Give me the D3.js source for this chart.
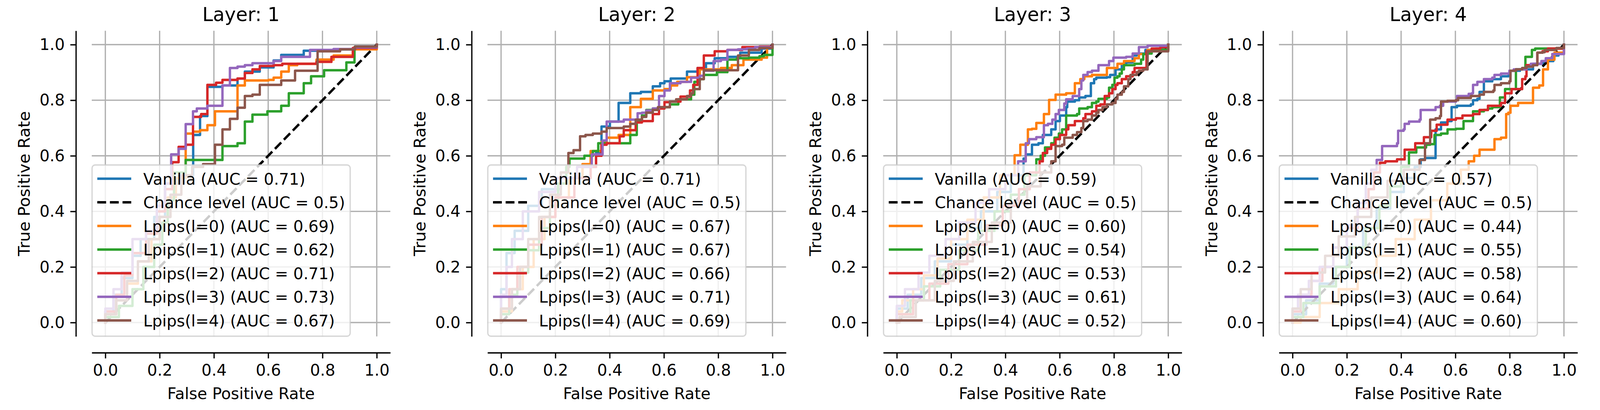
<!DOCTYPE html>
<html><head><meta charset="utf-8">
<script src="https://cdn.jsdelivr.net/npm/d3@7"></script>
<style>
html,body{margin:0;padding:0;background:#fff;width:100%;height:100%;overflow:hidden}
svg{display:block;width:100vw;height:100vh;font-family:"DejaVu Sans",sans-serif}
</style>
</head><body>
<svg id="chart" viewBox="0 0 4200 1050" preserveAspectRatio="none"></svg>
<script>
// ---------- data ----------
const layerTitles = ["Layer: 1", "Layer: 2", "Layer: 3", "Layer: 4"];
const xTicks = [0.0, 0.2, 0.4, 0.6, 0.8, 1.0];
const yTicks = [0.0, 0.2, 0.4, 0.6, 0.8, 1.0];
const seriesNames = ["Vanilla", "Lpips(l=0)", "Lpips(l=1)", "Lpips(l=2)", "Lpips(l=3)", "Lpips(l=4)"];
const seriesColors = ["#1f77b4", "#ff7f0e", "#2ca02c", "#d62728", "#9467bd", "#8c564b"];
const chanceLabel = "Chance level (AUC = 0.5)";

// AUC per layer (Layer 1..4)
const aucVanilla = [0.71, 0.71, 0.59, 0.57];
const aucL0 = [0.69, 0.67, 0.60, 0.44];
const aucL1 = [0.62, 0.67, 0.54, 0.55];
const aucL2 = [0.71, 0.66, 0.53, 0.58];
const aucL3 = [0.73, 0.71, 0.61, 0.64];
const aucL4 = [0.67, 0.69, 0.52, 0.60];

// ROC curves [fpr, tpr] (points where each step reaches its new level)
const roc1Vanilla = [[0,0],[0,0.04],[0.03,0.1],[0.06,0.16],[0.1,0.24],[0.13,0.3],[0.18,0.38],[0.22,0.5],[0.27,0.53],[0.3236,0.675],[0.349,0.743],[0.376,0.848],[0.4315,0.853],[0.487,0.878],[0.514,0.903],[0.569,0.918],[0.620,0.943],[0.648,0.963],[0.731,0.978],[0.841,0.983],[0.920,0.993],[1,1]];
const roc1L0 = [[0,0],[0,0.03],[0.04,0.08],[0.08,0.14],[0.12,0.22],[0.17,0.3],[0.2,0.38],[0.23,0.45],[0.26,0.52],[0.296,0.68],[0.323,0.687],[0.349,0.692],[0.376,0.71],[0.404,0.76],[0.487,0.853],[0.514,0.871],[0.601,0.873],[0.620,0.881],[0.648,0.903],[0.676,0.926],[0.707,0.931],[0.778,0.946],[0.841,0.961],[0.912,0.983],[1,1]];
const roc1L1 = [[0,0],[0,0.02],[0.05,0.06],[0.1,0.12],[0.14,0.2],[0.18,0.28],[0.21,0.36],[0.23,0.44],[0.253,0.54],[0.296,0.585],[0.4315,0.635],[0.487,0.645],[0.514,0.723],[0.542,0.748],[0.597,0.76],[0.648,0.78],[0.676,0.825],[0.731,0.861],[0.758,0.886],[0.806,0.908],[0.888,0.936],[0.918,0.991],[1,1]];
const roc1L2 = [[0,0],[0,0.04],[0.04,0.1],[0.07,0.17],[0.1,0.25],[0.15,0.32],[0.19,0.4],[0.22,0.48],[0.2465,0.577],[0.270,0.632],[0.296,0.640],[0.323,0.74],[0.353,0.75],[0.376,0.855],[0.408,0.863],[0.4315,0.873],[0.487,0.878],[0.514,0.898],[0.542,0.911],[0.569,0.923],[0.62,0.926],[0.652,0.931],[0.778,0.938],[0.833,0.956],[0.912,0.988],[1,1]];
const roc1L3 = [[0,0],[0,0.05],[0.03,0.12],[0.06,0.18],[0.1,0.3],[0.15,0.33],[0.19,0.42],[0.22,0.5],[0.2425,0.605],[0.27,0.625],[0.296,0.714],[0.323,0.76],[0.337,0.77],[0.376,0.78],[0.4315,0.853],[0.459,0.916],[0.487,0.921],[0.514,0.926],[0.542,0.933],[0.620,0.941],[0.648,0.956],[0.754,0.981],[0.841,0.984],[0.92,0.99],[1,1]];
const roc1L4 = [[0,0],[0,0.03],[0.04,0.08],[0.08,0.15],[0.12,0.22],[0.16,0.3],[0.2,0.38],[0.24,0.46],[0.28,0.53],[0.32,0.56],[0.36,0.57],[0.404,0.64],[0.4315,0.695],[0.459,0.733],[0.487,0.773],[0.514,0.815],[0.542,0.82],[0.569,0.855],[0.648,0.871],[0.699,0.906],[0.782,0.976],[0.865,0.983],[0.92,0.993],[1,1]];

const roc2Vanilla = [[0,0],[0,0.12],[0.02,0.25],[0.05,0.33],[0.1,0.42],[0.15,0.48],[0.22,0.52],[0.3,0.56],[0.35,0.61],[0.37,0.705],[0.401,0.723],[0.433,0.79],[0.476,0.825],[0.515,0.83],[0.559,0.85],[0.586,0.861],[0.602,0.868],[0.625,0.878],[0.685,0.903],[0.724,0.916],[0.755,0.933],[0.787,0.951],[0.834,0.956],[0.881,0.971],[0.96,0.986],[1,1]];
const roc2L0 = [[0,0],[0,0.04],[0.04,0.12],[0.08,0.2],[0.12,0.3],[0.16,0.38],[0.2,0.45],[0.25,0.52],[0.3,0.57],[0.33,0.617],[0.37,0.65],[0.389,0.665],[0.433,0.675],[0.476,0.775],[0.515,0.805],[0.559,0.835],[0.602,0.84],[0.625,0.853],[0.649,0.866],[0.685,0.883],[0.732,0.911],[0.81,0.916],[0.85,0.926],[0.893,0.946],[0.96,0.953],[0.98,0.991],[1,1]];
const roc2L1 = [[0,0],[0,0.03],[0.03,0.1],[0.06,0.18],[0.1,0.26],[0.14,0.34],[0.18,0.42],[0.21,0.5],[0.24,0.56],[0.252,0.59],[0.307,0.60],[0.338,0.617],[0.358,0.645],[0.476,0.675],[0.5,0.725],[0.519,0.745],[0.535,0.765],[0.559,0.77],[0.598,0.775],[0.622,0.785],[0.653,0.803],[0.7,0.82],[0.712,0.866],[0.732,0.876],[0.747,0.891],[0.795,0.901],[0.834,0.946],[0.869,0.951],[0.913,0.953],[0.952,0.958],[0.968,0.963],[1,0.99],[1,1]];
const roc2L2 = [[0,0],[0,0.05],[0.03,0.12],[0.06,0.2],[0.1,0.28],[0.15,0.38],[0.2,0.45],[0.27,0.52],[0.33,0.56],[0.35,0.6],[0.37,0.64],[0.389,0.645],[0.437,0.67],[0.452,0.692],[0.496,0.72],[0.519,0.725],[0.559,0.75],[0.582,0.77],[0.602,0.793],[0.622,0.795],[0.661,0.813],[0.696,0.835],[0.708,0.855],[0.724,0.916],[0.747,0.961],[0.787,0.976],[0.834,0.981],[0.889,0.991],[0.952,0.993],[1,1]];
const roc2L3 = [[0,0],[0,0.1],[0.02,0.2],[0.04,0.3],[0.08,0.4],[0.14,0.47],[0.2,0.52],[0.28,0.56],[0.334,0.605],[0.374,0.655],[0.389,0.723],[0.452,0.73],[0.503,0.753],[0.519,0.755],[0.535,0.763],[0.559,0.77],[0.582,0.815],[0.602,0.835],[0.622,0.861],[0.661,0.866],[0.7,0.881],[0.732,0.888],[0.747,0.906],[0.783,0.941],[0.81,0.946],[0.834,0.981],[0.873,0.983],[0.905,0.986],[0.936,0.991],[1,1]];
const roc2L4 = [[0,0],[0,0.05],[0.04,0.12],[0.07,0.2],[0.1,0.3],[0.14,0.38],[0.18,0.46],[0.22,0.54],[0.248,0.61],[0.267,0.62],[0.291,0.67],[0.311,0.675],[0.338,0.68],[0.37,0.687],[0.389,0.70],[0.452,0.705],[0.476,0.715],[0.496,0.73],[0.519,0.74],[0.535,0.755],[0.559,0.765],[0.578,0.775],[0.622,0.795],[0.645,0.803],[0.685,0.815],[0.7,0.825],[0.708,0.84],[0.732,0.876],[0.747,0.908],[0.873,0.961],[0.913,0.981],[0.952,0.988],[1,1]];

const roc3Vanilla = [[0,0],[0,0.05],[0.04,0.1],[0.09,0.16],[0.14,0.22],[0.2,0.28],[0.26,0.34],[0.31,0.4],[0.37,0.47],[0.42,0.53],[0.467,0.59],[0.475,0.605],[0.498,0.64],[0.522,0.645],[0.538,0.675],[0.569,0.695],[0.585,0.725],[0.601,0.745],[0.624,0.775],[0.628,0.795],[0.656,0.8],[0.672,0.81],[0.695,0.815],[0.715,0.861],[0.727,0.876],[0.735,0.881],[0.774,0.883],[0.786,0.891],[0.806,0.911],[0.829,0.926],[0.845,0.936],[0.869,0.961],[0.884,0.968],[0.916,0.981],[0.955,0.986],[1,1]];
const roc3L0 = [[0,0],[0,0.04],[0.02,0.08],[0.06,0.12],[0.1,0.17],[0.15,0.23],[0.2,0.3],[0.26,0.37],[0.32,0.45],[0.38,0.53],[0.434,0.602],[0.455,0.64],[0.483,0.695],[0.498,0.697],[0.514,0.718],[0.542,0.75],[0.561,0.801],[0.585,0.82],[0.624,0.825],[0.656,0.861],[0.676,0.876],[0.691,0.886],[0.719,0.891],[0.774,0.916],[0.813,0.931],[0.837,0.941],[0.876,0.951],[0.892,0.966],[0.924,0.981],[1,1]];
const roc3L1 = [[0,0],[0,0.03],[0.05,0.08],[0.1,0.13],[0.16,0.19],[0.23,0.26],[0.3,0.33],[0.36,0.4],[0.42,0.46],[0.47,0.53],[0.514,0.587],[0.53,0.60],[0.546,0.63],[0.569,0.645],[0.581,0.665],[0.597,0.68],[0.609,0.695],[0.624,0.745],[0.664,0.75],[0.672,0.77],[0.703,0.775],[0.719,0.79],[0.735,0.795],[0.743,0.805],[0.774,0.81],[0.782,0.845],[0.794,0.855],[0.802,0.881],[0.813,0.886],[0.821,0.896],[0.829,0.911],[0.837,0.926],[0.876,0.931],[0.9,0.946],[0.908,0.966],[0.924,0.968],[0.939,0.981],[1,1]];
const roc3L2 = [[0,0],[0,0.03],[0.06,0.08],[0.12,0.14],[0.19,0.21],[0.26,0.28],[0.33,0.35],[0.39,0.42],[0.45,0.48],[0.49,0.54],[0.526,0.58],[0.538,0.61],[0.554,0.625],[0.569,0.64],[0.585,0.66],[0.601,0.675],[0.624,0.695],[0.632,0.71],[0.656,0.725],[0.687,0.735],[0.695,0.75],[0.719,0.76],[0.735,0.78],[0.75,0.785],[0.766,0.815],[0.782,0.825],[0.794,0.84],[0.806,0.855],[0.813,0.861],[0.829,0.876],[0.845,0.886],[0.869,0.901],[0.876,0.916],[0.92,0.976],[0.939,0.986],[0.971,0.991],[1,1]];
const roc3L3 = [[0,0],[0,0.06],[0.03,0.12],[0.08,0.18],[0.12,0.24],[0.18,0.3],[0.23,0.36],[0.29,0.43],[0.34,0.48],[0.4,0.53],[0.447,0.58],[0.475,0.645],[0.487,0.66],[0.514,0.667],[0.542,0.71],[0.557,0.715],[0.573,0.73],[0.585,0.75],[0.597,0.765],[0.617,0.788],[0.624,0.803],[0.648,0.815],[0.672,0.84],[0.68,0.871],[0.687,0.891],[0.703,0.901],[0.719,0.906],[0.743,0.926],[0.782,0.941],[0.798,0.953],[0.845,0.956],[0.869,0.968],[0.892,0.991],[0.924,0.996],[1,1]];
const roc3L4 = [[0,0],[0.01,0.02],[0.07,0.08],[0.14,0.15],[0.21,0.22],[0.28,0.29],[0.35,0.36],[0.42,0.43],[0.48,0.49],[0.53,0.54],[0.569,0.58],[0.585,0.635],[0.609,0.64],[0.617,0.665],[0.648,0.675],[0.664,0.685],[0.68,0.70],[0.687,0.725],[0.703,0.73],[0.719,0.745],[0.735,0.755],[0.743,0.765],[0.758,0.775],[0.774,0.785],[0.794,0.79],[0.806,0.805],[0.813,0.82],[0.829,0.83],[0.837,0.85],[0.853,0.876],[0.861,0.891],[0.884,0.901],[0.892,0.906],[0.908,0.911],[0.924,0.976],[1,1]];

const roc4Vanilla = [[0,0],[0,0.03],[0.05,0.08],[0.1,0.14],[0.15,0.2],[0.2,0.27],[0.26,0.34],[0.31,0.41],[0.36,0.47],[0.41,0.52],[0.45,0.56],[0.472,0.587],[0.488,0.592],[0.527,0.695],[0.547,0.72],[0.571,0.725],[0.586,0.775],[0.606,0.78],[0.657,0.785],[0.665,0.80],[0.681,0.805],[0.689,0.83],[0.705,0.868],[0.736,0.876],[0.768,0.886],[0.795,0.888],[0.803,0.906],[0.838,0.911],[0.886,0.931],[0.921,0.933],[0.941,0.941],[0.961,0.961],[0.98,0.968],[1,1]];
const roc4L0 = [[0,0],[0.03,0.02],[0.1,0.07],[0.17,0.12],[0.24,0.18],[0.31,0.24],[0.38,0.3],[0.45,0.37],[0.51,0.44],[0.57,0.5],[0.62,0.55],[0.649,0.58],[0.669,0.60],[0.689,0.622],[0.744,0.66],[0.768,0.665],[0.787,0.75],[0.795,0.755],[0.803,0.78],[0.831,0.79],[0.886,0.845],[0.909,0.853],[0.923,0.911],[0.941,0.946],[0.965,0.971],[1,0.976],[1,1]];
const roc4L1 = [[0,0],[0,0.02],[0.04,0.07],[0.1,0.13],[0.16,0.2],[0.21,0.27],[0.27,0.34],[0.32,0.42],[0.36,0.49],[0.4,0.56],[0.429,0.612],[0.456,0.63],[0.492,0.64],[0.507,0.642],[0.523,0.675],[0.547,0.68],[0.571,0.695],[0.602,0.697],[0.63,0.725],[0.665,0.76],[0.705,0.765],[0.72,0.77],[0.736,0.775],[0.764,0.81],[0.783,0.84],[0.823,0.911],[0.858,0.956],[0.882,0.981],[0.894,0.986],[1,1]];
const roc4L2 = [[0,0],[0,0.04],[0.03,0.1],[0.07,0.15],[0.11,0.2],[0.15,0.27],[0.2,0.34],[0.24,0.41],[0.28,0.48],[0.3,0.54],[0.322,0.575],[0.342,0.58],[0.385,0.587],[0.413,0.622],[0.452,0.645],[0.484,0.667],[0.511,0.69],[0.531,0.712],[0.571,0.73],[0.602,0.735],[0.626,0.745],[0.665,0.75],[0.689,0.765],[0.72,0.78],[0.768,0.79],[0.783,0.825],[0.807,0.84],[0.846,0.876],[0.858,0.886],[0.862,0.926],[0.894,0.931],[0.902,0.971],[0.921,0.976],[0.941,0.986],[1,1]];
const roc4L3 = [[0,0],[0,0.05],[0.02,0.1],[0.06,0.15],[0.1,0.2],[0.15,0.27],[0.2,0.35],[0.24,0.43],[0.27,0.5],[0.29,0.55],[0.31,0.585],[0.33,0.635],[0.385,0.645],[0.389,0.69],[0.409,0.695],[0.413,0.715],[0.429,0.723],[0.468,0.73],[0.472,0.765],[0.527,0.775],[0.543,0.78],[0.555,0.795],[0.602,0.80],[0.606,0.815],[0.649,0.823],[0.661,0.825],[0.665,0.855],[0.681,0.866],[0.705,0.876],[0.736,0.881],[0.744,0.891],[0.768,0.896],[0.799,0.906],[0.815,0.911],[0.862,0.921],[0.878,0.931],[0.917,0.941],[0.933,0.951],[0.957,0.966],[1,0.973],[1,1]];
const roc4L4 = [[0,0],[0,0.05],[0.03,0.12],[0.07,0.18],[0.12,0.24],[0.17,0.31],[0.23,0.38],[0.29,0.45],[0.35,0.51],[0.41,0.55],[0.468,0.585],[0.488,0.645],[0.507,0.73],[0.527,0.735],[0.543,0.743],[0.547,0.795],[0.571,0.798],[0.602,0.8],[0.61,0.808],[0.657,0.815],[0.689,0.82],[0.705,0.83],[0.74,0.835],[0.744,0.855],[0.768,0.861],[0.799,0.868],[0.803,0.906],[0.823,0.911],[0.846,0.916],[0.862,0.921],[0.886,0.926],[0.902,0.971],[0.921,0.973],[0.929,0.981],[0.972,0.988],[1,1]];

const chanceLine = [[0,0],[1,1]];

// ---------- assemble ----------
const panelCurves = [
  [roc1Vanilla, roc1L0, roc1L1, roc1L2, roc1L3, roc1L4],
  [roc2Vanilla, roc2L0, roc2L1, roc2L2, roc2L3, roc2L4],
  [roc3Vanilla, roc3L0, roc3L1, roc3L2, roc3L3, roc3L4],
  [roc4Vanilla, roc4L0, roc4L1, roc4L2, roc4L3, roc4L4]
];
const aucTable = [aucVanilla, aucL0, aucL1, aucL2, aucL3, aucL4];

// ---------- layout ----------
const PT = 300 / 72;
const axLeft0 = 240.9, panelStep = 1038.8, axW = 783.7;
const axTop = 78.7, axBot = 861.6, spineOff = 10 * PT;
const fs = 10 * PT, lw = 1.5 * PT;

const svg = d3.select("#chart");
svg.append("rect").attr("width", 4200).attr("height", 1050).attr("fill", "#fff");

layerTitles.forEach((title, p) => {
  const left = axLeft0 + p * panelStep;
  const x = d3.scaleLinear().domain([-0.05, 1.05]).range([left, left + axW]);
  const y = d3.scaleLinear().domain([-0.05, 1.05]).range([axBot, axTop]);
  const g = svg.append("g");

  // grid
  const grid = g.append("g").attr("stroke", "#b0b0b0").attr("stroke-width", 0.8 * PT);
  xTicks.forEach(t => grid.append("line").attr("x1", x(t)).attr("x2", x(t)).attr("y1", axTop).attr("y2", axBot));
  yTicks.forEach(t => grid.append("line").attr("y1", y(t)).attr("y2", y(t)).attr("x1", left).attr("x2", left + axW));

  const line = d3.line().x(d => x(d[0])).y(d => y(d[1])).curve(d3.curveStepAfter);
  const curves = panelCurves[p];

  const drawSeries = (i) => g.append("path").datum(curves[i])
      .attr("d", line).attr("fill", "none").attr("stroke", seriesColors[i])
      .attr("stroke-width", lw).attr("stroke-linejoin", "round").attr("stroke-linecap", "square");

  drawSeries(0);
  g.append("path").datum(chanceLine)
    .attr("d", d3.line().x(d => x(d[0])).y(d => y(d[1])))
    .attr("fill", "none").attr("stroke", "#000").attr("stroke-width", lw)
    .attr("stroke-dasharray", `${3.7 * lw},${1.6 * lw}`);
  for (let i = 1; i < 6; i++) drawSeries(i);

  // axes (offset spines)
  const yAxis = d3.axisLeft(y).tickValues(yTicks).tickFormat(d3.format(".1f"))
    .tickSize(3.5 * PT).tickSizeOuter(0).tickPadding(3.5 * PT);
  const xAxis = d3.axisBottom(x).tickValues(xTicks).tickFormat(d3.format(".1f"))
    .tickSize(3.5 * PT).tickSizeOuter(0).tickPadding(3.5 * PT);
  const ya = g.append("g").attr("transform", `translate(${left - spineOff},0)`).call(yAxis);
  const xa = g.append("g").attr("transform", `translate(0,${axBot + spineOff})`).call(xAxis);
  [ya, xa].forEach(a => {
    a.selectAll("path,line").attr("stroke", "#000").attr("stroke-width", 0.8 * PT);
    a.selectAll("text").attr("fill", "#000").style("font-size", fs + "px")
      .style("font-family", '"DejaVu Sans", sans-serif');
  });

  // labels
  g.append("text").attr("x", left + axW / 2).attr("y", 54).attr("text-anchor", "middle")
    .style("font-size", (12 * PT) + "px").text(title);
  g.append("text").attr("x", left + axW / 2).attr("y", 1022).attr("text-anchor", "middle")
    .style("font-size", fs + "px").text("False Positive Rate");
  g.append("text").attr("transform", `translate(${left - spineOff - 121},${(axTop + axBot) / 2}) rotate(-90)`)
    .attr("text-anchor", "middle").style("font-size", fs + "px").text("True Positive Rate");

  // legend
  const lg = g.append("g").attr("transform", `translate(${left + 0.8},422.5)`);
  lg.append("rect").attr("width", 677.5).attr("height", 438.5).attr("rx", 8).attr("ry", 8)
    .attr("fill", "#fff").attr("fill-opacity", 0.8)
    .attr("stroke", "#cccccc").attr("stroke-opacity", 0.8).attr("stroke-width", 1.0 * PT * 0.8);
  const entries = [
    { label: `${seriesNames[0]} (AUC = ${aucTable[0][p].toFixed(2)})`, color: seriesColors[0], dash: null },
    { label: chanceLabel, color: "#000", dash: `${3.7 * lw},${1.6 * lw}` }
  ];
  for (let i = 1; i < 6; i++) entries.push({ label: `${seriesNames[i]} (AUC = ${aucTable[i][p].toFixed(2)})`, color: seriesColors[i], dash: null });
  entries.forEach((e, k) => {
    const cy = 35 + k * 60.5;
    const h = lg.append("line").attr("x1", 13.7).attr("x2", 102.8).attr("y1", cy).attr("y2", cy)
      .attr("stroke", e.color).attr("stroke-width", lw);
    if (e.dash) h.attr("stroke-dasharray", e.dash);
    lg.append("text").attr("x", 134.4).attr("y", cy + 15.2).style("font-size", fs + "px").text(e.label);
  });
});
</script>
</body></html>
